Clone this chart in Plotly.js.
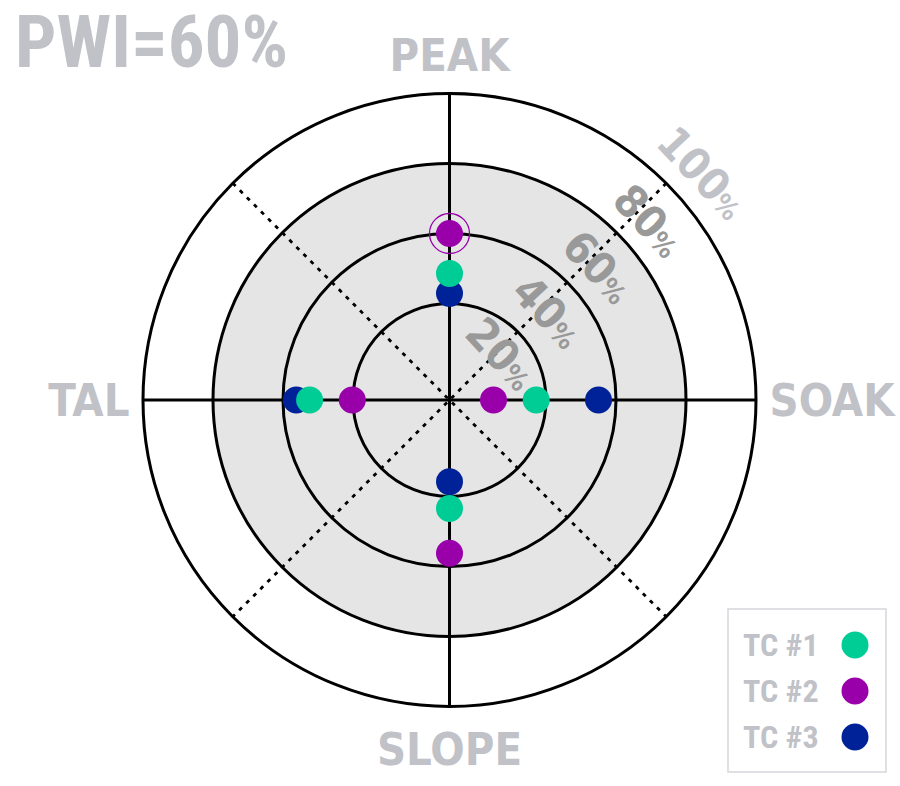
<!DOCTYPE html>
<html>
<head>
<meta charset="utf-8">
<script src="https://cdn.plot.ly/plotly-3.0.1.min.js"></script>
<style>html,body{margin:0;padding:0;background:#fff}</style>
</head>
<body>
<div id="chart" style="width:900px;height:786px"></div>
<script>
// spokes of the process window, angle in degrees (0 = right, counterclockwise)
var spokes = ['PEAK', 'SOAK', 'SLOPE', 'TAL'];
var spokeAngles = [90, 0, 270, 180];

// % of process window per thermocouple
var seriesNames = ['TC #1', 'TC #2', 'TC #3'];
var tc1 = [48.6, 37.2, 43.4, 52.4];
var tc2 = [60, 25, 56.2, 40.2];
var tc3 = [42.9, 55, 35.8, 56.2];

var ringLabels = [20, 40, 60, 80, 100];
var pwi = 60;

var W = 900, H = 786;
var cx = 449.5, cy = 400, R = 306.5;
var rMin = 12.43;              // radial value at the centre
var colors = ['#00cc96', '#9900aa', '#002299'];
var grey = '#c0c2c8';
var narrow = 'Roboto Condensed, DejaVu Sans Condensed, sans-serif';
var cond = 'DejaVu Sans Condensed, sans-serif';

function rpx(v) { return R * (v - rMin) / (100 - rMin); }
function px(x) { return x / W; }
function py(y) { return 1 - y / H; }

function series(r, i) {
    return {
        type: 'scatterpolar',
        mode: 'markers',
        r: r,
        theta: spokeAngles,
        name: seriesNames[i],
        marker: {size: 27, color: colors[i]},
        hoverinfo: 'skip'
    };
}

// the dotted diagonals
var dotted = {color: '#000', width: 2.8, dash: '4px,6px'};
var diag1 = {type: 'scatterpolar', mode: 'lines', r: [100, 100], theta: [45, 225], line: dotted, hoverinfo: 'skip'};
var diag2 = {type: 'scatterpolar', mode: 'lines', r: [100, 100], theta: [135, 315], line: dotted, hoverinfo: 'skip'};

// ring round the point that sits right on the PWI
var hiIdx = tc2.indexOf(pwi);
var ring = {type: 'scatterpolar', mode: 'markers', r: [tc2[hiIdx]], theta: [spokeAngles[hiIdx]],
    marker: {size: 40, color: colors[1], symbol: 'circle-open', line: {color: colors[1], width: 1.3}},
    hoverinfo: 'skip'};

var data = [diag1, diag2, series(tc3, 2), series(tc1, 0), series(tc2, 1), ring];

var shapes = [];
// grey band up to 80%
var r80 = rpx(80);
shapes.push({type: 'circle', xref: 'paper', yref: 'paper', layer: 'below',
    x0: px(cx - r80), x1: px(cx + r80), y0: py(cy + r80), y1: py(cy - r80),
    fillcolor: '#e5e5e5', line: {width: 0}});

var annotations = [];
annotations.push({xref: 'paper', yref: 'paper', x: px(13), y: py(42), xanchor: 'left', yanchor: 'middle',
    showarrow: false, text: 'PWI=' + pwi + '%',
    font: {family: narrow, size: 73, color: grey, weight: 'bold'}});

var labelR = [70, 133, 200, 268, 340];
ringLabels.forEach(function(v, i) {
    var a = 42 * Math.PI / 180;
    annotations.push({
        xref: 'paper', yref: 'paper',
        x: px(cx + labelR[i] * Math.cos(a)), y: py(cy - labelR[i] * Math.sin(a)),
        xanchor: 'center', yanchor: 'middle', showarrow: false, textangle: 47,
        text: v + '<span style="font-size:27px">%</span>',
        font: {family: cond, size: 44, weight: 'bold', color: v === 100 ? grey : '#999999'}
    });
});

// legend, text first and dot on the right
var rowY = [645, 691, 737];
shapes.push({type: 'rect', xref: 'paper', yref: 'paper', x0: px(728), x1: px(886), y0: py(772), y1: py(609),
    line: {color: '#d6d6dc', width: 1.5}, fillcolor: 'rgba(0,0,0,0)'});
seriesNames.forEach(function(n, i) {
    annotations.push({xref: 'paper', yref: 'paper', x: px(741), y: py(rowY[i]), xanchor: 'left', yanchor: 'middle',
        showarrow: false, text: n, font: {family: narrow, size: 32, weight: 'bold', color: grey}});
    shapes.push({type: 'circle', xref: 'paper', yref: 'paper', xsizemode: 'pixel', ysizemode: 'pixel',
        xanchor: px(855), yanchor: py(rowY[i]), x0: -13.5, x1: 13.5, y0: -13.5, y1: 13.5,
        fillcolor: colors[i], line: {width: 0}});
});

var layout = {
    width: W,
    height: H,
    margin: {l: 0, r: 0, t: 0, b: 0},
    paper_bgcolor: '#fff',
    showlegend: false,
    polar: {
        domain: {x: [px(cx - R), px(cx + R)], y: [py(cy + R), py(cy - R)]},
        bgcolor: 'rgba(0,0,0,0)',
        radialaxis: {
            range: [rMin, 100],
            tickvals: [40, 60, 80],
            showticklabels: false,
            ticks: '',
            showline: false,
            gridcolor: '#000',
            gridwidth: 3
        },
        angularaxis: {
            tickmode: 'array',
            tickvals: spokeAngles,
            ticktext: spokes,
            ticks: 'outside',
            ticklen: 3,
            tickcolor: 'rgba(0,0,0,0)',
            showline: true,
            linecolor: '#000',
            linewidth: 3,
            gridcolor: '#000',
            gridwidth: 3,
            tickfont: {family: cond, size: 45, weight: 'bold', color: grey}
        }
    },
    shapes: shapes,
    annotations: annotations
};

Plotly.newPlot('chart', data, layout, {displayModeBar: false, staticPlot: true});
</script>
</body>
</html>
